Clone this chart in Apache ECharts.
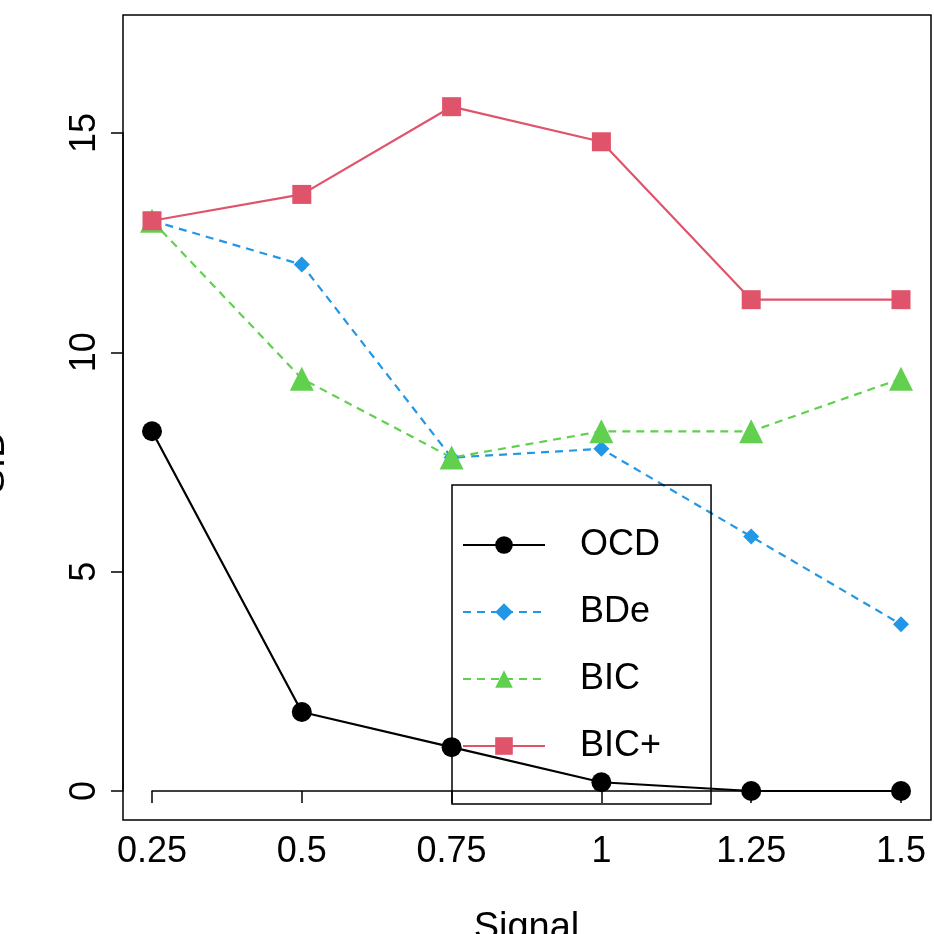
<!DOCTYPE html><html><head><meta charset="utf-8">
<script src="https://cdn.jsdelivr.net/npm/echarts@6/dist/echarts.min.js"></script>
<style>html,body{margin:0;background:#fff}#c{width:934px;height:934px}</style></head><body><div id="c"></div>
<script>
const signal=[0.25,0.5,0.75,1,1.25,1.5];
const ocd=[8.2,1.8,1.0,0.2,0,0];
const bde=[13,12,7.6,7.8,5.8,3.8];
const bic=[13,9.4,7.6,8.2,8.2,9.4];
const bicPlus=[13,13.6,15.6,14.8,11.2,11.2];
const F='Liberation Sans, Arial, sans-serif';
const mk=v=>v.map((y,i)=>[signal[i],y]);
const ch=echarts.init(document.getElementById('c'));
function s(name,data,color,sym,size,dash){return {name,type:'line',data:mk(data),clip:false,symbol:sym,symbolSize:size,
 lineStyle:{color,width:2.2,type:dash?[8,6]:'solid'},itemStyle:{color},emphasis:{disabled:true}};}
ch.setOption({animation:false,
 grid:{left:152,right:33,top:133,bottom:143,containLabel:false,outerBoundsMode:'none'},
 graphic:[{type:'rect',shape:{x:123,y:15,width:808,height:805},style:{fill:'none',stroke:'#000',lineWidth:1.5},z:100}],
 xAxis:{type:'value',min:0.25,max:1.5,interval:0.25,offset:29,name:'Signal',nameLocation:'middle',nameGap:90,
  nameTextStyle:{fontFamily:F,fontSize:38,color:'#000'},
  axisLine:{show:true,lineStyle:{color:'#000',width:1.5}},axisTick:{length:12,lineStyle:{color:'#000',width:1.5}},
  axisLabel:{fontFamily:F,fontSize:36,color:'#000',margin:14,formatter:v=>String(v)},splitLine:{show:false}},
 yAxis:{type:'value',min:0,max:15,interval:5,offset:29,name:'SID',nameLocation:'middle',nameGap:110,
  nameTextStyle:{fontFamily:F,fontSize:38,color:'#000'},
  axisLine:{show:true,lineStyle:{color:'#000',width:1.5}},axisTick:{length:12,lineStyle:{color:'#000',width:1.5}},
  axisLabel:{fontFamily:F,fontSize:36,color:'#000',rotate:90,margin:20},splitLine:{show:false}},
 legend:{left:452,top:485,width:253,orient:'vertical',itemWidth:82,itemHeight:22,itemGap:31,
  padding:[42,50,40,10],borderColor:'#000',borderWidth:1.5,
  textStyle:{fontFamily:F,fontSize:36,color:'#000',padding:[0,0,0,30],lineHeight:22},
  data:['OCD','BDe','BIC','BIC+']},
 series:[s('OCD',ocd,'#000','circle',20,false),s('BDe',bde,'#2297E6','diamond',16,true),
  s('BIC',bic,'#61D04F','triangle',24,true),s('BIC+',bicPlus,'#DF536B','rect',19,false)]
});
</script></body></html>
